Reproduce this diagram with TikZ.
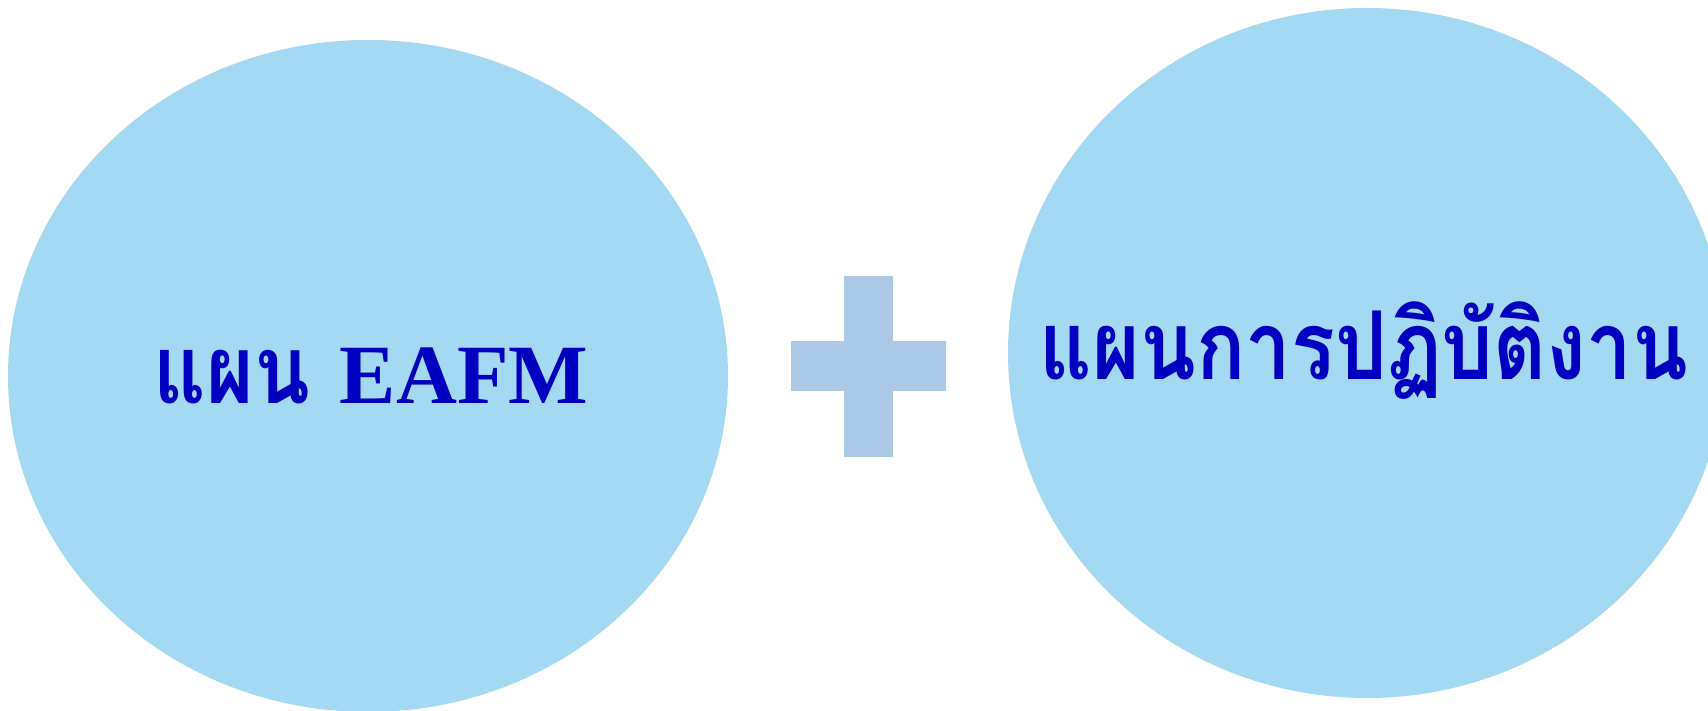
\documentclass[tikz,border=0pt]{standalone}
\usepackage{fontspec}
\usepackage{tikz}
\usetikzlibrary{shapes.geometric,positioning,calc}
\newfontfamily\thaifont[Script=Thai,FakeStretch=0.86]{Loma}
\newfontfamily\latinfont{Liberation Serif}
\definecolor{bulle}{HTML}{A3D9F2}
\definecolor{croix}{HTML}{ABC9E5}
\definecolor{encre}{HTML}{0000C0}
\tikzset{
  blob/.style={ellipse, fill=bulle, draw=none, inner sep=0pt},
  tag/.style={anchor=base, inner sep=0pt, text=encre, font=\thaifont\bfseries\fontsize{27}{30}\selectfont},
  plus/.style={fill=croix, draw=none},
}

\begin{document}
\begin{tikzpicture}
    \useasboundingbox (0,0) rectangle (17.08,7.11);
    \node[blob, minimum width=7.2cm, minimum height=6.72cm] (plan) at (3.68,3.35) {};
    \node[blob, minimum width=7.18cm, minimum height=6.9cm] (action) at (13.67,3.58) {};
    \node[tag] (planT) at ($(plan.center)+(0.03,-0.28)$)
      {แผน\hspace{0.3cm}{\latinfont\bfseries\fontsize{24}{28}\selectfont EAFM}};
    \node[tag] (actionT) at ($(action.center)+(-0.03,-0.27)$) {แผนการปฏิบัติงาน};
    \coordinate (mid) at (8.685,3.45);
    \fill[plus] ($(mid)+(-0.245,-0.91)$) rectangle ($(mid)+(0.245,0.90)$);
    \fill[plus] ($(mid)+(-0.775,-0.25)$) rectangle ($(mid)+(0.775,0.25)$);
  \end{tikzpicture}
\end{document}
